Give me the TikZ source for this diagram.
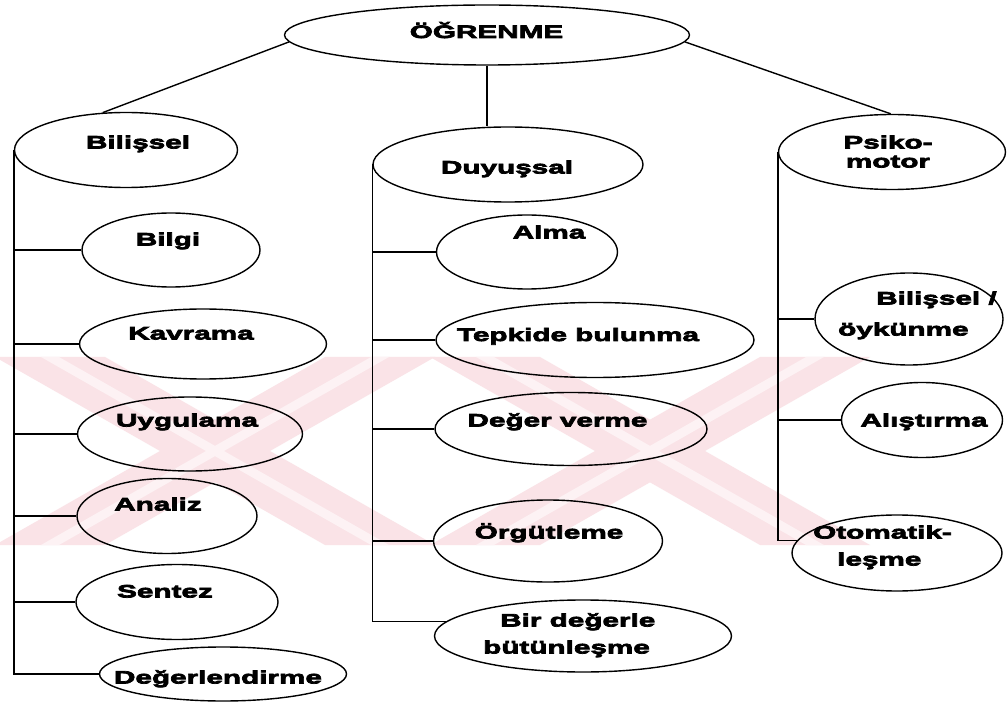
\documentclass[tikz,border=0pt]{standalone}
\usepackage{fontspec}
\newfontfamily\lab{Liberation Sans Bold}[FakeStretch=1.65,FakeBold=4]
\usetikzlibrary{shapes.geometric}
\definecolor{wmpink}{RGB}{250,227,231}
\definecolor{wmlight}{RGB}{253,242,244}
\tikzset{
  ell/.style={draw, ellipse, line width=1.4pt, inner sep=0pt},
  lbl/.style={font=\lab\fontsize{18}{19}\selectfont, anchor=base, inner sep=0pt, align=center},
  link/.style={line width=1.4pt},
}
\begin{document}
\begin{tikzpicture}[x=1pt,y=-1pt]
\useasboundingbox (0,0) rectangle (1007,703);
\fill[white] (0,0) rectangle (1007,703);

% faint background mark: two crossed bands
\begin{scope}
  \clip (0,357) rectangle (875,545);
  \foreach \cx in {215,650} {
    \foreach \s in {1,-1} {
      \fill[wmpink] ({\cx-\s*165-55},357) -- ({\cx-\s*165+55},357) -- ({\cx+\s*165+55},545) -- ({\cx+\s*165-55},545) -- cycle;
    }
  }
  \foreach \cx in {215,650} {
    \foreach \s in {1,-1} {
      \fill[wmlight] ({\cx-\s*165-9},357) -- ({\cx-\s*165+9},357) -- ({\cx+\s*165+9},545) -- ({\cx+\s*165-9},545) -- cycle;
    }
  }
\end{scope}

% ellipses
\node[ell, minimum width=405, minimum height=60] (ogr) at (487,35) {};
\node[ell, minimum width=223, minimum height=75] (bil) at (126,150) {};
\node[ell, minimum width=178, minimum height=74] (bilgi) at (171,250) {};
\node[ell, minimum width=247, minimum height=70] (kav) at (203,344) {};
\node[ell, minimum width=225, minimum height=74] (uyg) at (190,434) {};
\node[ell, minimum width=180, minimum height=75] (ana) at (167,516) {};
\node[ell, minimum width=202, minimum height=75] (sen) at (177,602) {};
\node[ell, minimum width=247, minimum height=54] (deg) at (223,674) {};
\node[ell, minimum width=270, minimum height=75] (duy) at (508,164.5) {};
\node[ell, minimum width=181, minimum height=74] (alma) at (527,252) {};
\node[ell, minimum width=318, minimum height=75] (tep) at (595,340) {};
\node[ell, minimum width=272, minimum height=73] (dv) at (571,429) {};
\node[ell, minimum width=229, minimum height=82] (org) at (548,541) {};
\node[ell, minimum width=297, minimum height=72] (bdb) at (583,636) {};
\node[ell, minimum width=227, minimum height=75] (psi) at (892,152) {};
\node[ell, minimum width=188, minimum height=92] (bo) at (909,319) {};
\node[ell, minimum width=161, minimum height=75] (ali) at (922,420) {};
\node[ell, minimum width=210, minimum height=76] (oto) at (897,553) {};

% labels (multi-line labels are placed by the baseline of their last line)
\node[lbl] (ogr-t) at (486.5,38) {ÖĞRENME};
\node[lbl] (bil-t) at (138,148.5) {Bilişsel};
\node[lbl] (bilgi-t) at (168,245.5) {Bilgi};
\node[lbl] (kav-t) at (191,339.5) {Kavrama};
\node[lbl] (uyg-t) at (187,426.5) {Uygulama};
\node[lbl] (ana-t) at (158,510.5) {Analiz};
\node[lbl] (sen-t) at (165,597.5) {Sentez};
\node[lbl] (deg-t) at (218,683.5) {Değerlendirme};
\node[lbl] (duy-t) at (507,173.5) {Duyuşsal};
\node[lbl] (alma-t) at (549,238.5) {Alma};
\node[lbl] (tep-t) at (578,341) {Tepkide bulunma};
\node[lbl] (dv-t) at (557.5,426.5) {Değer verme};
\node[lbl] (org-t) at (549,538.5) {Örgütleme};
\node[lbl, anchor=base west, align=left] (bdb-t) at (483,653.5) {\hspace*{17pt}Bir değerle\\[8pt]bütünleşme};
\node[lbl] (psi-t) at (888,167.5) {Psiko-\\motor};
\node[lbl, anchor=base west, align=left] (bo-t) at (838,335.5) {\hspace*{38pt}Bilişsel /\\[12pt]öykünme};
\node[lbl] (ali-t) at (924,426.5) {Alıştırma};
\node[lbl, anchor=base west, align=left] (oto-t) at (813,565.5) {Otomatik-\\[8pt]\hspace*{24pt}leşme};

% links from the root
\draw[link] (ogr.182) -- (bil.122);
\draw[link] (ogr.south) -- (ogr.south |- duy.north);
\draw[link] (ogr.358.5) -- (psi.92);

% Bilişsel trunk and branches
\draw[link] (bil.west) |- (deg.west);
\foreach \n in {bilgi,kav,uyg,ana,sen}
  \draw[link] (bil.west |- \n.west) -- (\n.west);

% Duyuşsal trunk and branches
\draw[link] (duy.west) |- (bdb.174);
\foreach \n in {alma,tep,dv,org}
  \draw[link] (duy.west |- \n.west) -- (\n.west);

% Psiko-motor trunk and branches
\draw[link] (psi.west) |- (oto.173);
\foreach \n in {bo,ali}
  \draw[link] (psi.west |- \n.west) -- (\n.west);
\end{tikzpicture}
\end{document}
